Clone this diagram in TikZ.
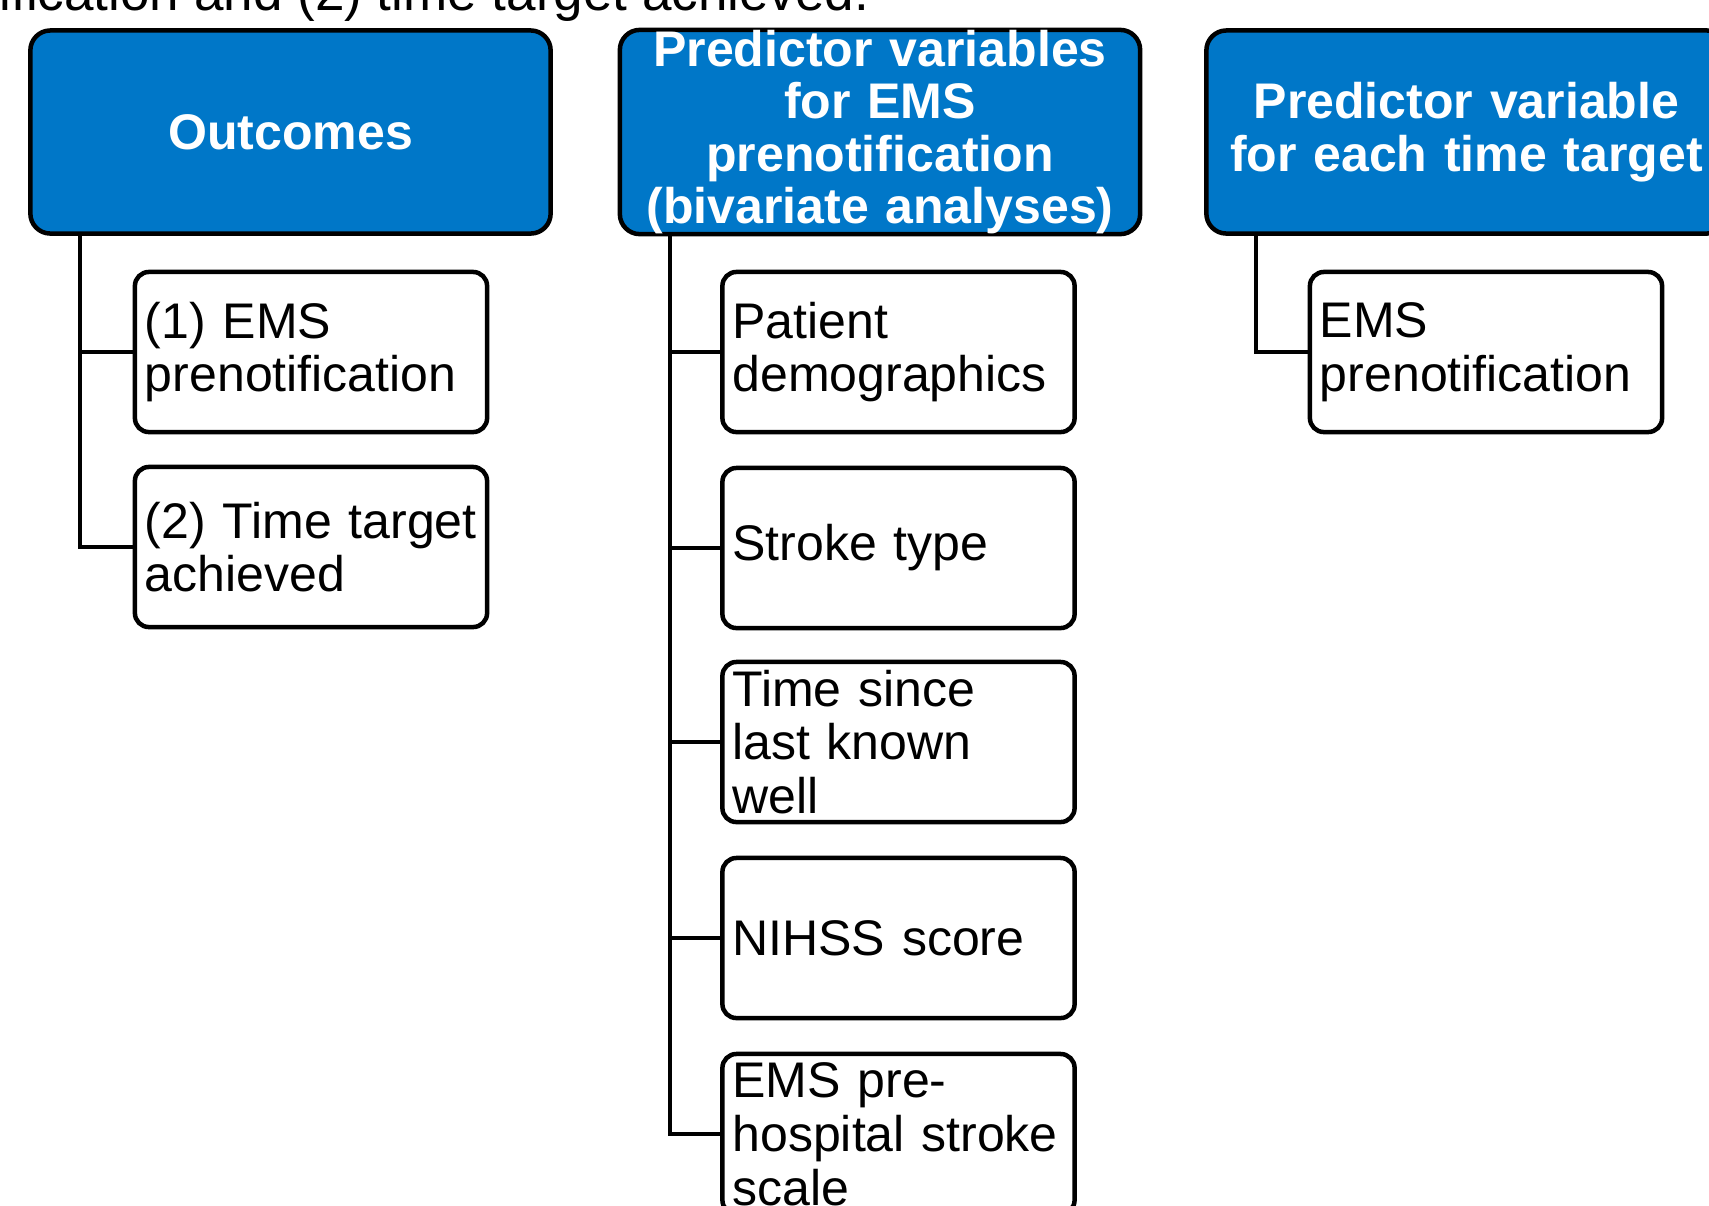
\documentclass[tikz,border=0pt]{standalone}
\usepackage{fontspec}
\setmainfont{Liberation Sans}
\usepackage{xcolor}
\definecolor{hdblue}{RGB}{0,119,200}
\tikzset{
	header/.style={
			draw=black, line width=1.28pt, fill=hdblue, rounded corners=0.2cm,
			minimum width=5.2cm, minimum height=2.03cm, text width=5.1cm, inner sep=0pt,
			align=center, text=white, font=\fontsize{14.23pt}{14.94pt}\selectfont\bfseries
		},
	item/.style={
			draw=black, line width=1.28pt, fill=white, rounded corners=0.14cm,
			minimum height=1.6cm, text width=3.32cm, inner xsep=0.1cm, inner ysep=0pt,
			align=left, font=\fontsize{14.23pt}{15.3pt}\selectfont
		},
	branch/.style={line width=1.15pt, black}
}

\begin{document}
\begin{tikzpicture}[x=0.01cm, y=-0.01cm]
		\useasboundingbox (0,0) rectangle (1709,1205);

		\node [anchor=base east, inner sep=0pt, font=\fontsize{15.08pt}{16pt}\selectfont] (caption) at (870,10)
			{prenotification and (2) time target achieved.};

		\node [header] (outcomes) at (290.5,132) {Outcomes};
		\node [header] (predEMS) at (880,132) {Predictor variables\\for EMS\\prenotification\\(bivariate analyses)};
		\node [header] (predTime) at (1466.5,132) {Predictor variable\\for each time target};

		\node [item] (outPre) at (311,352) {(1) EMS\\prenotification};
		\node [item] (outTime) at (311,547) {\mbox{(2) Time target}\\achieved};

		\node [item] (demog) at (898.5,352) {Patient\\demographics};
		\node [item] (stroke) at (898.5,548) {Stroke type};
		\node [item] (lkw) at (898.5,742) {Time since\\last known\\well};
		\node [item] (nihss) at (898.5,938) {NIHSS score};
		\node [item] (prehosp) at (898.5,1134) {EMS pre-\\hospital stroke\\scale};

		\node [item] (timePre) at (1486,352) {EMS\\prenotification};

		\coordinate (trunkA) at ([xshift=0.52cm]outcomes.south west);
		\coordinate (trunkB) at ([xshift=0.52cm]predEMS.south west);
		\coordinate (trunkC) at ([xshift=0.52cm]predTime.south west);

		\foreach \kid in {outPre, outTime}
			\draw [branch] (trunkA) |- (\kid.west);
		\foreach \kid in {demog, stroke, lkw, nihss, prehosp}
			\draw [branch] (trunkB) |- (\kid.west);
		\draw [branch] (trunkC) |- (timePre.west);
	\end{tikzpicture}
\end{document}
